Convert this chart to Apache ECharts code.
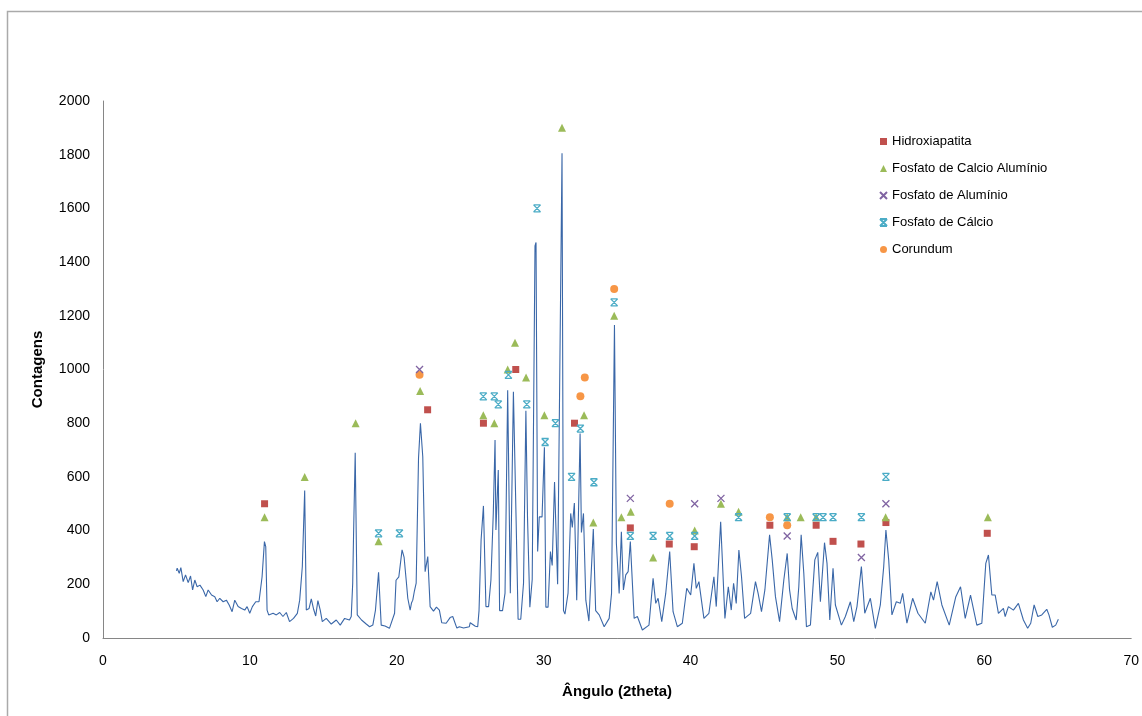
<!DOCTYPE html>
<html>
<head>
<meta charset="utf-8">
<script src="https://cdn.jsdelivr.net/npm/echarts@6/dist/echarts.min.js"></script>
<style>
html,body{margin:0;padding:0;background:#fff;}
#chart{width:1142px;height:716px;}
</style>
</head>
<body>
<div id="chart"></div>
<script>
// XRD pattern (angle in 2theta, counts)
var patternAngles = [5.0,5.05,5.19,5.3,5.46,5.62,5.8,5.96,6.1,6.25,6.41,6.6,6.82,7.0,7.16,7.39,7.61,7.77,7.95,8.18,8.4,8.59,8.79,8.97,9.2,9.43,9.65,9.81,9.99,10.17,10.4,10.62,10.83,10.99,11.08,11.17,11.28,11.58,11.8,12.03,12.25,12.48,12.7,12.97,13.23,13.39,13.57,13.73,13.84,14.03,14.18,14.34,14.48,14.63,14.79,14.93,15.2,15.54,15.88,16.15,16.45,16.78,16.9,17.0,17.06,17.17,17.31,17.6,17.92,18.15,18.37,18.55,18.76,18.94,19.2,19.5,19.85,19.95,20.14,20.36,20.5,20.64,20.75,20.91,21.0,21.09,21.2,21.32,21.48,21.61,21.77,21.93,22.11,22.27,22.5,22.7,22.9,23.06,23.36,23.63,23.81,24.09,24.26,24.55,24.94,25.0,25.35,25.51,25.6,25.74,25.9,26.07,26.25,26.41,26.57,26.69,26.75,26.91,27.0,27.2,27.37,27.55,27.73,27.94,28.12,28.26,28.44,28.63,28.79,28.9,29.06,29.22,29.41,29.48,29.59,29.7,29.89,30.05,30.15,30.3,30.46,30.58,30.74,30.95,31.25,31.35,31.45,31.66,31.84,31.95,32.09,32.25,32.48,32.57,32.71,32.87,33.08,33.38,33.54,33.78,34.12,34.46,34.62,34.82,34.95,35.14,35.29,35.43,35.59,35.75,35.9,36.16,36.38,36.72,37.17,37.45,37.63,37.79,38.04,38.31,38.58,38.81,39.1,39.44,39.74,40.01,40.23,40.39,40.57,40.91,41.25,41.59,41.75,42.05,42.34,42.57,42.77,42.93,43.11,43.29,43.47,43.68,44.09,44.42,44.6,44.83,45.06,45.38,45.56,45.78,46.06,46.35,46.58,46.74,46.92,47.19,47.37,47.53,47.71,47.89,48.16,48.46,48.66,48.84,49.12,49.29,49.48,49.7,49.86,50.27,50.54,50.88,51.11,51.33,51.63,51.86,52.24,52.58,52.92,53.15,53.3,53.49,53.71,54.01,54.28,54.44,54.73,55.12,55.48,55.98,56.36,56.54,56.79,57.11,57.61,58.06,58.38,58.7,59.06,59.49,59.83,60.1,60.28,60.51,60.74,60.96,61.3,61.42,61.64,61.98,62.32,62.66,62.95,63.16,63.39,63.64,63.91,64.25,64.4,64.63,64.86,65.04];
var patternCounts = [250,260,241,262,210,235,206,231,179,216,191,197,179,154,179,160,154,135,148,135,141,123,98,141,117,110,104,117,92,117,135,135,228,359,340,104,86,92,86,95,80,95,61,73,92,141,266,549,104,110,146,107,82,139,104,61,73,52,67,48,73,67,80,204,390,690,86,67,52,42,48,104,245,48,45,36,92,215,228,328,300,216,148,104,130,141,175,204,669,800,675,247,303,117,100,115,104,57,55,76,80,37,42,37,42,57,44,42,102,365,492,117,117,216,464,737,402,626,102,102,167,923,167,917,451,70,70,205,846,451,115,218,1460,1473,322,451,451,710,115,115,322,270,581,200,1805,102,89,167,464,412,503,141,762,393,464,141,63,406,102,86,42,73,166,1166,353,166,396,179,235,247,359,73,80,30,48,222,129,148,61,166,322,98,42,55,185,160,278,185,210,73,92,228,117,433,73,191,104,204,129,328,228,73,92,210,166,98,179,384,291,154,61,216,315,179,110,67,191,384,241,42,48,291,319,135,355,278,67,260,123,48,80,135,61,117,266,92,148,36,123,266,402,291,86,135,129,166,55,148,92,55,172,141,210,123,48,154,191,73,160,48,55,278,309,160,160,92,110,80,117,104,129,67,36,55,123,80,86,107,86,40,48,70];

// Phase markers
var hidroxAngles = [11.0,22.1,25.9,28.1,32.1,35.9,38.55,40.25,45.4,48.55,49.7,51.6,53.3,60.2];
var hidroxCounts = [500,850,800,1000,800,410,350,340,420,420,360,350,430,390];

var fcaAngles = [11.0,13.73,17.2,18.76,21.59,25.89,26.64,27.55,28.05,28.8,30.05,31.25,32.75,33.38,34.8,35.29,35.93,37.45,40.28,42.07,43.27,46.58,47.5,48.55,53.28,60.24];
var fcaCounts = [450,600,800,360,920,830,800,1000,1100,970,830,1900,830,430,1200,450,470,300,400,500,470,450,450,450,450,450];

var faAngles = [21.55,35.9,40.28,42.07,46.58,51.63,53.3];
var faCounts = [1000,520,500,520,380,300,500];

var fcAngles = [18.76,20.18,25.89,26.64,26.91,27.6,28.85,29.55,30.1,30.8,31.9,32.5,33.42,34.8,35.9,37.45,38.58,40.28,43.27,46.58,48.55,49.02,49.7,51.63,53.3];
var fcCounts = [390,390,900,900,870,980,870,1600,730,800,600,780,580,1250,380,380,380,380,450,450,450,450,450,450,600];

var corAngles = [21.55,32.5,32.8,34.8,38.58,45.4,46.58];
var corCounts = [980,900,970,1300,500,450,420];

var xTicks = [0,10,20,30,40,50,60,70];
var yTicks = [0,200,400,600,800,1000,1200,1400,1600,1800,2000];

function pairs(xs, ys){ return xs.map(function(x,i){ return [x, ys[i]]; }); }

var FONT = 'Liberation Sans, Arial, sans-serif';
var chart = echarts.init(document.getElementById('chart'), null, {renderer:'canvas'});
var starPath = 'path://M0,0L10,0M0,10L10,10M0,0L10,10M10,0L0,10';
var crossPath = 'path://M0,0L10,10M10,0L0,10';

chart.setOption({
  animation:false,
  backgroundColor:'#ffffff',
  graphic:[{type:'rect', shape:{x:7.5,y:11.5,width:1150,height:720}, style:{fill:'none', stroke:'#aaaaaa', lineWidth:1.5}, silent:true}],
  grid:{left:103, top:101, right:9, bottom:78},
  legend:{
    orient:'vertical', left:874, top:129, itemWidth:7, itemHeight:7, itemGap:12,
    textStyle:{fontFamily:FONT, fontSize:13, color:'#000', lineHeight:15},
    data:['Hidroxiapatita','Fosfato de Calcio Alumínio','Fosfato de Alumínio','Fosfato de Cálcio','Corundum']
  },
  xAxis:{
    type:'value', min:0, max:70, interval:10,
    name:'Ângulo (2theta)', nameLocation:'middle', nameGap:46,
    nameTextStyle:{fontFamily:FONT, fontSize:15, fontWeight:'bold', color:'#000'},
    axisLine:{lineStyle:{color:'#868686', width:1}},
    axisTick:{show:false},
    splitLine:{show:false},
    axisLabel:{fontFamily:FONT, fontSize:14, color:'#000', margin:16,
      formatter:function(v){ return xTicks.indexOf(v) >= 0 ? String(v) : ''; }}
  },
  yAxis:{
    type:'value', min:0, max:2000, interval:200,
    name:'Contagens', nameLocation:'middle', nameGap:58,
    nameTextStyle:{fontFamily:FONT, fontSize:15, fontWeight:'bold', color:'#000'},
    axisLine:{show:true, lineStyle:{color:'#868686', width:1}},
    axisTick:{show:false},
    splitLine:{show:false},
    axisLabel:{fontFamily:FONT, fontSize:14, color:'#000', margin:13,
      formatter:function(v){ return yTicks.indexOf(v) >= 0 ? String(v) : ''; }}
  },
  series:[
    {name:'Padrão', type:'line', data:pairs(patternAngles, patternCounts), showSymbol:false, symbol:'none',
     lineStyle:{color:'#3A67A8', width:1.1}, itemStyle:{color:'#3A67A8'}, z:1},
    {name:'Hidroxiapatita', type:'scatter', data:pairs(hidroxAngles, hidroxCounts), symbol:'rect', symbolSize:7,
     itemStyle:{color:'#C0504D', opacity:1}, z:3},
    {name:'Fosfato de Calcio Alumínio', type:'scatter', data:pairs(fcaAngles, fcaCounts), symbol:'triangle', symbolSize:8,
     itemStyle:{color:'#9BBB59', opacity:1}, z:3},
    {name:'Fosfato de Alumínio', type:'scatter', data:pairs(faAngles, faCounts), symbol:crossPath, symbolSize:7,
     itemStyle:{color:'#8064A2', borderColor:'#8064A2', borderWidth:1.3, opacity:1}, z:4},
    {name:'Fosfato de Cálcio', type:'scatter', data:pairs(fcAngles, fcCounts), symbol:starPath, symbolSize:7,
     itemStyle:{color:'#4BACC6', borderColor:'#4BACC6', borderWidth:1.3, opacity:1}, z:4},
    {name:'Corundum', type:'scatter', data:pairs(corAngles, corCounts), symbol:'circle', symbolSize:8,
     itemStyle:{color:'#F79646', opacity:1}, z:3}
  ]
});
</script>
</body>
</html>
